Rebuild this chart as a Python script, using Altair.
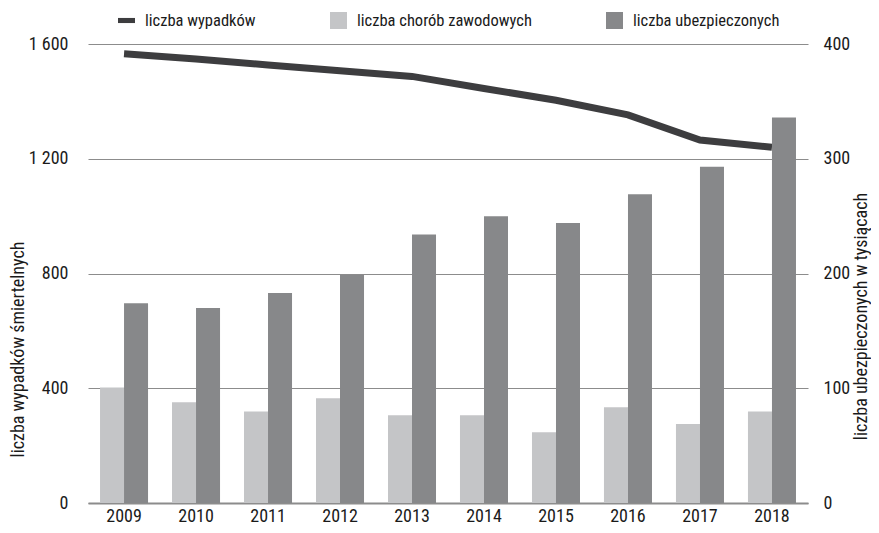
import altair as alt
import pandas as pd

years = ["2009", "2010", "2011", "2012", "2013", "2014", "2015", "2016", "2017", "2018"]
wypadki = [1566, 1548, 1527, 1507, 1487, 1445, 1404, 1353, 1265, 1240]
choroby = [403, 351, 319, 365, 306, 306, 247, 334, 275, 319]
ubezpieczeni = [174, 170, 183, 199, 234, 250, 244, 269, 293, 336]

series = ["liczba wypadków", "liczba chorób zawodowych", "liczba ubezpieczonych"]
colors = ["#3d3d3f", "#c4c5c7", "#87888a"]
shapes = ["M-1,-0.3H1V0.3H-1Z", "square", "square"]

left_ticks = [0, 400, 800, 1200, 1600]
right_ticks = [0, 100, 200, 300, 400]

FONT = "Liberation Sans Narrow, Arial Narrow, Roboto Condensed, Liberation Sans, sans-serif"

df_line = pd.DataFrame({"year": years, "value": wypadki, "series": series[0]})
df_chor = pd.DataFrame({"year": years, "value": choroby, "series": series[1]})
df_ubez = pd.DataFrame({"year": years, "value": ubezpieczeni, "series": series[2]})
df_legend = pd.DataFrame({"series": series})

color_scale = alt.Scale(domain=series, range=colors)
shape_scale = alt.Scale(domain=series, range=shapes)
offset_scale = alt.Scale(domain=[series[1], series[2]], paddingInner=0, paddingOuter=0)

x_enc = alt.X(
    "year:N",
    sort=years,
    scale=alt.Scale(paddingInner=0.333, paddingOuter=0.167),
    axis=alt.Axis(
        title=None, labelAngle=0, ticks=False, domain=True,
        domainColor="#8c8c8c", domainWidth=2, labelPadding=4,
    ),
)

left_axis = alt.Axis(
    title="liczba wypadków śmiertelnych",
    values=left_ticks,
    labelExpr="replace(format(datum.value, ','), ',', ' ')",
    grid=True, gridColor="#8c8c8c", gridWidth=1.2,
    domain=False, ticks=False, labelPadding=20,
    titleAngle=270, titleX=-70, titleY=305,
    titleAlign="center", titleBaseline="middle",
)
right_axis = alt.Axis(
    title="liczba ubezpieczonych w tysiącach",
    orient="right",
    values=right_ticks,
    grid=False, domain=False, ticks=False, labelPadding=15,
    titleAngle=270, titleX=53, titleY=272,
    titleAlign="center", titleBaseline="middle",
)

legend = alt.Legend(
    title=None, orient="none", direction="horizontal",
    legendX=30, legendY=-32, columnPadding=74, labelOffset=10,
    symbolSize=289, symbolStrokeWidth=0, labelFontSize=16.5, labelLimit=400,
)

bars_chor = alt.Chart(df_chor).mark_bar(color=colors[1]).encode(
    x=x_enc,
    xOffset=alt.XOffset("series:N", scale=offset_scale),
    y=alt.Y("value:Q", scale=alt.Scale(domain=[0, 1600]), axis=left_axis),
)

line = alt.Chart(df_line).mark_line(strokeWidth=7, color=colors[0]).encode(
    x=x_enc,
    y=alt.Y("value:Q", scale=alt.Scale(domain=[0, 1600]), axis=left_axis),
)

legend_layer = alt.Chart(df_legend).mark_point(filled=True, opacity=1).encode(
    color=alt.Color("series:N", scale=color_scale, legend=legend),
    shape=alt.Shape("series:N", scale=shape_scale, legend=legend),
).transform_filter("false")

left_layer = alt.layer(bars_chor, line, legend_layer)

bars_ubez = alt.Chart(df_ubez).mark_bar(color=colors[2]).encode(
    x=x_enc,
    xOffset=alt.XOffset("series:N", scale=offset_scale),
    y=alt.Y("value:Q", scale=alt.Scale(domain=[0, 400]), axis=right_axis),
)

chart = (
    alt.layer(left_layer, bars_ubez)
    .resolve_scale(y="independent")
    .properties(
        width=720, height=459,
        autosize=alt.AutoSizeParams(type="none"),
        padding={"left": 80, "top": 36, "right": 63, "bottom": 22},
    )
    .configure_view(stroke=None)
    .configure_axis(
        labelFont=FONT, titleFont=FONT, labelFontSize=18, titleFontSize=18,
        labelColor="#1a1a1a", titleColor="#1a1a1a", titleFontWeight="normal",
    )
    .configure_legend(labelFont=FONT, labelColor="#1a1a1a")
)

chart.save("out.html", embed_options={"renderer": "svg", "actions": False})
